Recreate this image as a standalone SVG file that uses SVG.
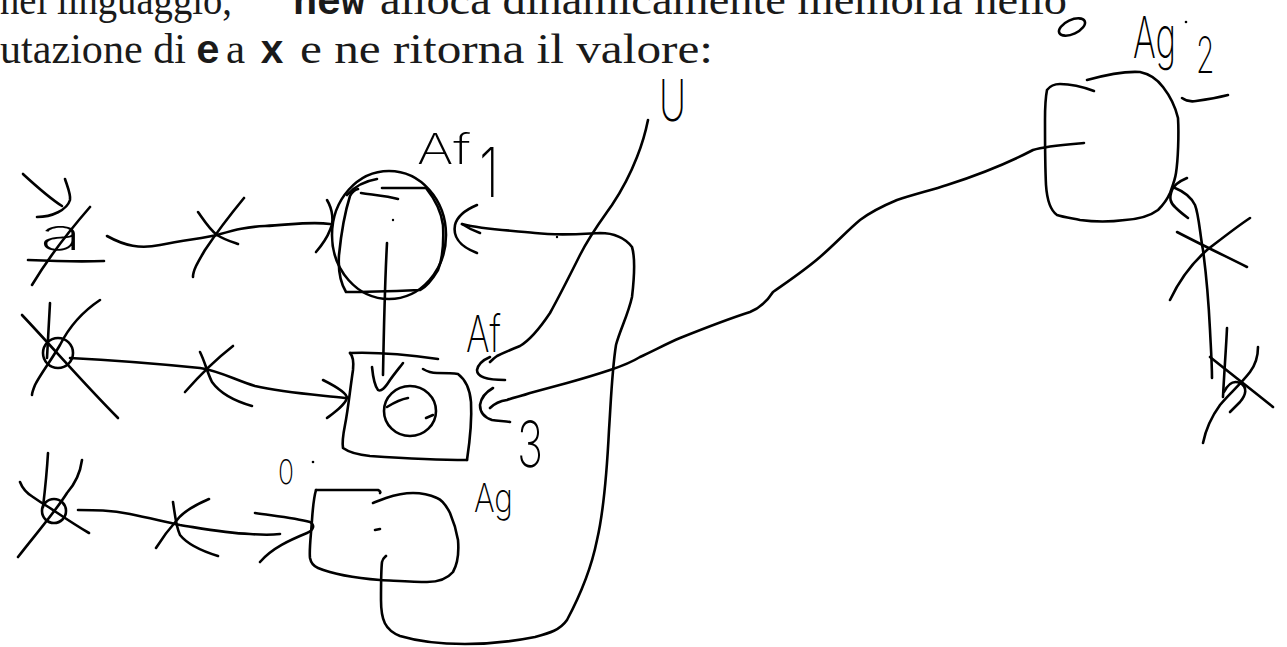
<svg xmlns="http://www.w3.org/2000/svg" width="1287" height="647" viewBox="0 0 1287 647">
<style>
.s{fill:none;stroke:#000;stroke-width:2.6;stroke-linecap:round;stroke-linejoin:round}
.doc{font-family:"Liberation Serif",serif;font-size:43px;fill:#1a1a1a}
.tt{font-family:"Liberation Mono",monospace;font-size:40px;font-weight:bold;fill:#1a1a1a}
.h{font-family:Inter,"Noto Sans",sans-serif;font-weight:200;fill:#000}
</style>
<rect width="1287" height="647" fill="#fff"/>
<g id="document-text">
<text class="doc" x="0" y="14" textLength="232" lengthAdjust="spacingAndGlyphs">nel linguaggio,</text>
<text class="tt" x="293" y="14" textLength="72" lengthAdjust="spacingAndGlyphs">new</text>
<text class="doc" x="380" y="14" textLength="687" lengthAdjust="spacingAndGlyphs">alloca dinamicamente memoria nello</text>
<text class="doc" x="0" y="63" textLength="186" lengthAdjust="spacingAndGlyphs">utazione di</text>
<text class="tt" x="196" y="63">e</text>
<text class="doc" x="226" y="63">a</text>
<text class="tt" x="260" y="63">x</text>
<text class="doc" x="300" y="63" textLength="413" lengthAdjust="spacingAndGlyphs">e ne ritorna il valore:</text>
</g>
<g id="connectors">
<path class="s" d="M107 236 C125 246 140 249 160 245 C185 240 205 238 217 235 C235 230 245 227 265 226 C290 225 310 221 330 224"/>
<path class="s" d="M327 200 C333 210 334 222 330 230 C327 238 322 245 316 252"/>
<path class="s" d="M198 212 C205 222 210 230 217 235 C225 240 232 242 238 244"/>
<path class="s" d="M244 198 C230 215 215 235 205 250 C198 262 193 270 193 277"/>
<path class="s" d="M70 358 C110 360 160 364 200 368 C220 371 235 380 255 386 C285 393 320 395 345 398"/>
<path class="s" d="M323 380 C335 386 347 393 347 398 C345 405 335 412 327 418"/>
<path class="s" d="M233 346 C215 360 200 375 185 392"/>
<path class="s" d="M200 352 C205 362 207 372 212 382 C222 396 238 402 252 406"/>
<path class="s" d="M78 510 C95 510 110 510 130 514 C150 518 165 522 180 525 C205 529 225 533 250 534 C262 535 272 535 280 534"/>
<path class="s" d="M255 513 C275 516 295 518 310 522 C315 525 314 530 307 533 C290 540 272 548 260 562"/>
<path class="s" d="M209 499 C195 505 183 512 177 520 C168 530 161 540 156 548"/>
<path class="s" d="M173 502 C175 515 176 527 180 535 C188 545 205 552 218 556"/>
<path class="s" d="M387 243 C385 280 384 320 383 375"/>
<path class="s" d="M372 367 C373 377 374 385 378 390 C381 392 385 388 390 380 C395 373 400 367 403 363"/>
<path class="s" d="M462 224 C468 228 474 231 480 233"/>
<path class="s" d="M462 224 C485 230 510 230 535 233 C560 236 580 234 600 233 C615 233 625 238 632 247 C636 260 634 280 632 297 C628 315 620 330 616 345 C612 370 611 400 609 430 C607 470 604 510 597 540 C592 565 583 590 567 620 C560 630 550 633 535 637 C515 641 490 644 465 644 C445 644 420 642 400 636 C385 630 381 620 381 600 C381 590 381 570 382 562 C383 558 385 557 386 556"/>
<path class="s" d="M648 120 C645 135 641 147 637 157 C630 175 622 190 612 205 C600 222 590 235 580 255 C570 275 560 295 550 313 C540 328 530 340 520 346 C510 350 503 353 497 356 C494 358 492 360 490 362"/>
<path class="s" d="M490 408 C495 403 500 401 507 400 C515 397 522 396 530 393 C545 389 556 386 567 383 C585 378 598 374 610 370 C625 365 632 362 640 357 C655 350 668 343 680 338 C700 330 725 320 750 312 C762 307 768 300 773 292 C790 280 805 270 820 257 C835 244 848 230 860 220 C872 211 885 205 897 200 C915 194 932 190 947 185 C975 176 1010 162 1033 150 C1045 146 1060 145 1084 143"/>
<path class="s" d="M1175 188 C1185 192 1191 197 1195 205 C1199 215 1200 235 1203 250 C1207 280 1209 310 1210 330 C1211 350 1212 365 1212 378"/>
<path class="s" d="M1187 178 C1180 181 1174 185 1172 190 C1169 198 1170 203 1176 208 C1180 212 1184 215 1188 218"/>
<path class="s" d="M1177 232 C1200 244 1225 256 1247 267"/>
<path class="s" d="M1250 218 C1235 228 1220 240 1207 250 C1190 265 1178 283 1170 300"/>
</g>
<g id="node-a">
<text class="h" x="40" y="250" font-size="44" textLength="42" lengthAdjust="spacingAndGlyphs">a</text>
<path class="s" d="M23 174 C35 185 48 197 62 206"/>
<path class="s" d="M65 179 C68 188 71 195 70 200 C67 210 52 217 37 217"/>
<path class="s" d="M90 207 C70 230 50 255 32 285"/>
<path class="s" d="M28 260 C50 261 80 262 104 261"/>
</g>
<g id="node-b">
<circle class="s" cx="58" cy="353" r="15"/>
<path class="s" d="M50 303 C49 320 48 340 47 358"/>
<path class="s" d="M22 315 C55 350 85 385 118 418"/>
<path class="s" d="M100 300 C85 310 70 325 60 345 C50 362 40 375 35 385 C33 390 32 393 32 395"/>
</g>
<g id="node-c">
<circle class="s" cx="54" cy="511" r="12"/>
<path class="s" d="M48 453 C47 470 45 490 43 507"/>
<path class="s" d="M20 482 C23 490 28 494 33 497 C40 502 45 505 50 508 C62 516 75 525 89 533"/>
<path class="s" d="M82 460 C80 475 74 485 67 493 C55 512 35 535 18 557"/>
</g>
<g id="node-Af1">
<ellipse class="s" cx="389" cy="235" rx="57" ry="64"/>
<path class="s" d="M382 188 L426 188 C434 198 441 210 443 225 C444 245 443 258 438 270 C432 280 426 287 420 290 C395 291 370 292 346 292 C340 282 338 270 339 255 C341 235 344 215 350 196 C352 192 354 190 358 189"/>
<path class="s" d="M347 195 C355 186 365 181 377 179"/>
<path class="s" d="M361 193 C375 195 388 196 398 199"/>
<circle cx="393" cy="220" r="1.2" fill="#000"/>
<path class="s" d="M477 205 C465 210 457 217 455 225 C453 235 458 246 477 253"/>
<text class="h" x="417" y="164" font-size="42" textLength="54" lengthAdjust="spacingAndGlyphs">Af</text>
<text class="h" x="479" y="197" font-size="68" textLength="20" lengthAdjust="spacingAndGlyphs">1</text>
<circle cx="557" cy="237" r="1.2" fill="#000"/>
</g>
<g id="node-Af">
<path class="s" d="M350 353 C375 352 410 355 438 359"/>
<path class="s" d="M350 353 C353 356 354 360 353 370 C350 390 348 410 345 425 C343 435 342 442 343 448 C350 453 360 455 370 456 C400 458 435 460 467 460"/>
<path class="s" d="M423 369 C428 372 432 373 437 373 C445 373 452 373 458 374 C466 380 470 390 471 402 C472 420 470 440 467 460"/>
<ellipse class="s" cx="410" cy="411" rx="26" ry="25"/>
<path class="s" d="M387 407 C395 402 402 399 408 398"/>
<path class="s" d="M426 418 L433 415"/>
<path class="s" d="M490 357 C483 360 478 365 477 370 C477 376 485 380 505 380"/>
<path class="s" d="M493 388 C486 392 481 398 480 405 C480 412 483 417 492 420 C498 421 505 421 510 422"/>
<text class="h" x="466" y="352" font-size="50" textLength="35" lengthAdjust="spacingAndGlyphs">Af</text>
<text class="h" x="517" y="467" font-size="64" textLength="26" lengthAdjust="spacingAndGlyphs">3</text>
</g>
<g id="node-Ag">
<path class="s" d="M316 490 C335 490 360 490 378 490 C380 491 381 492 380 493"/>
<path class="s" d="M316 490 C314 497 313 505 312 520 C311 535 309 550 310 558 C311 563 313 566 318 568 C335 575 355 578 380 580 C400 581 415 582 427 582 C440 582 448 578 453 572 C458 563 459 552 458 540 C456 528 453 520 450 513 C446 505 442 500 437 498 C428 494 420 493 413 493 C403 493 395 495 386 498 C380 500 376 502 373 503"/>
<path class="s" d="M375 530 L380 529"/>
<text class="h" x="474" y="512" font-size="40" textLength="39" lengthAdjust="spacingAndGlyphs">Ag</text>
<text class="h" x="278" y="484" font-size="34" textLength="16" lengthAdjust="spacingAndGlyphs">0</text>
<circle cx="313" cy="462" r="1.3" fill="#000"/>
</g>
<g id="node-Ag2">
<path class="s" d="M1087 80 C1105 75 1125 71 1140 72 C1150 74 1157 79 1163 87 C1170 96 1175 105 1178 118 C1179 135 1178 160 1176 173 C1175 180 1173 185 1170 193 C1167 200 1163 205 1158 210 C1150 216 1140 219 1125 220 C1110 222 1095 222 1080 220 C1070 218 1063 217 1057 215 C1050 210 1047 200 1046 185 C1045 165 1045 140 1045 120 C1045 105 1046 95 1047 90 C1050 86 1055 84 1060 84 C1068 84 1078 85 1094 91"/>
<path class="s" d="M1182 98 C1186 101 1190 102 1196 101 C1210 99 1220 97 1228 95"/>
<ellipse class="s" cx="1072" cy="27" rx="14" ry="7" transform="rotate(-25 1072 27)"/>
<circle cx="1186" cy="22" r="1.3" fill="#000"/>
<text class="h" transform="translate(1133 58) scale(0.6 1)" x="0" y="0" font-size="58">Ag<tspan x="105" y="15" font-size="50">2</tspan></text>
</g>
<g id="node-U">
<text class="h" x="659" y="121" font-size="58" textLength="27" lengthAdjust="spacingAndGlyphs">U</text>
</g>
<g id="node-d">
<path class="s" d="M1227 328 C1226 350 1224 375 1223 397"/>
<path class="s" d="M1224 392 C1228 384 1233 380 1240 383 C1248 387 1246 395 1240 402 C1235 407 1232 410 1230 412"/>
<path class="s" d="M1210 357 C1230 373 1252 390 1273 407"/>
<path class="s" d="M1258 347 C1258 357 1256 364 1250 372 C1240 385 1228 395 1220 405 C1212 416 1206 428 1203 443"/>
</g>
</svg>
